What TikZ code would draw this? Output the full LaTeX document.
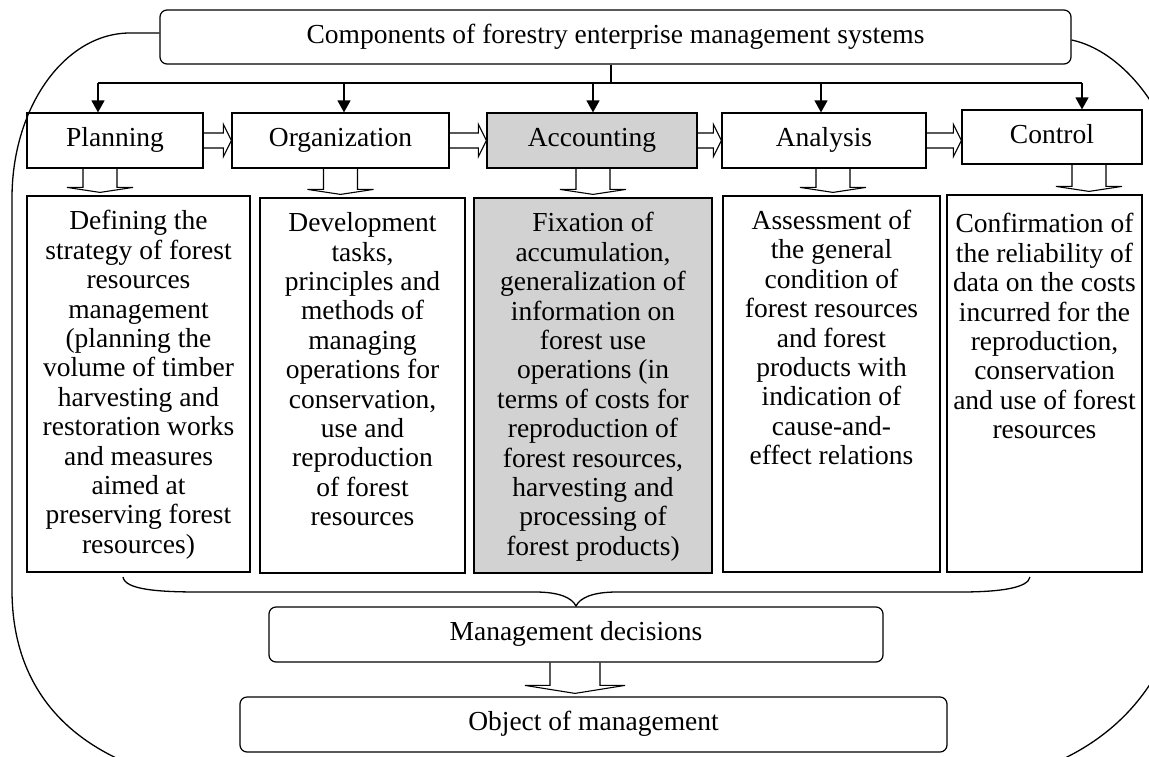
\documentclass[tikz,border=0pt]{standalone}
\usepackage{fontspec}
\setmainfont{Liberation Serif}
\usetikzlibrary{arrows.meta,calc}
\newcommand\figfont{\fontsize{27.5pt}{29.4pt}\selectfont}
% hollow down arrow: #1 source node, #2 xshift, #3 target node, #4 shaft half width, #5 head half width, #6 head length
\newcommand\dnarrow[6]{\draw[hollow] let \p1=([xshift=#2]#1.south), \p2=(#3.north) in
  (\x1-#4,\y1) -- (\x1-#4,\y2+3pt+#6) -- (\x1-#5,\y2+3pt+#6) -- (\x1,\y2+3pt)
  -- (\x1+#5,\y2+3pt+#6) -- (\x1+#4,\y2+3pt+#6) -- (\x1+#4,\y1);}
% hollow right arrow between two nodes
\newcommand\rtarrow[2]{\draw[hollow] let \p1=(#1.east), \p2=(#2.west) in
  (\x1,\y1+7.5pt) -- (\x2-8pt,\y1+7.5pt) -- (\x2-8pt,\y1+16pt) -- (\x2,\y1)
  -- (\x2-8pt,\y1-16pt) -- (\x2-8pt,\y1-7.5pt) -- (\x1,\y1-7.5pt);}
\begin{document}
\begin{tikzpicture}[x=1pt,y=-1pt,
  box/.style={draw, line width=1.2pt, inner sep=0pt, font=\figfont, text height=18.8pt, text depth=6pt},
  rbox/.style={box, rounded corners=7pt},
  txt/.style={align=center, inner sep=0pt, anchor=north, font=\figfont},
  hollow/.style={draw, line width=1.1pt},
  blk/.style={line width=1.3pt},
  tip/.style={blk, -{Triangle[length=12pt,width=13pt]}},
  shade/.style={fill=gray!35}]
\useasboundingbox (0,0) rectangle (1149,756);

% top box
\node[rbox, minimum width=911pt, minimum height=54pt] (comp) at (615.5,37) {Components of forestry enterprise management systems};

% first row
\node[box, minimum width=176pt, minimum height=55pt] (plan) at (115,140.5) {Planning};
\node[box, minimum width=217pt, minimum height=55pt] (org) at (340.5,140.5) {Organization};
\node[box, shade, minimum width=210pt, minimum height=55pt] (acc) at (592,140.5) {Accounting};
\node[box, minimum width=204pt, minimum height=55pt] (ana) at (824,140.5) {Analysis};
\node[box, minimum width=180pt, minimum height=54pt] (ctl) at (1052,137) {Control};

% second row boxes
\node[box, minimum width=223pt, minimum height=376pt] (d1) at (138.5,384) {};
\node[box, minimum width=205pt, minimum height=375pt] (d2) at (362.5,385.5) {};
\node[box, shade, minimum width=238pt, minimum height=375pt] (d3) at (593,385.5) {};
\node[box, minimum width=217pt, minimum height=376pt] (d4) at (831.5,384) {};
\node[box, minimum width=195pt, minimum height=377pt] (d5) at (1044.5,383.5) {};

\node[txt] (t1) at ([yshift=-15pt]d1.north) {Defining the\\strategy of forest\\resources\\management\\(planning the\\volume of timber\\harvesting and\\restoration works\\and measures\\aimed at\\preserving forest\\resources)};
\node[txt] (t2) at ([yshift=-15pt]d2.north) {Development\\tasks,\\principles and\\methods of\\managing\\operations for\\conservation,\\use and\\reproduction\\of forest\\resources};
\node[txt] (t3) at ([yshift=-15pt]d3.north) {Fixation of\\accumulation,\\generalization of\\information on\\forest use\\operations (in\\terms of costs for\\reproduction of\\forest resources,\\harvesting and\\processing of\\forest products)};
\node[txt] (t4) at ([yshift=-14.5pt]d4.north) {Assessment of\\the general\\condition of\\forest resources\\and forest\\products with\\indication of\\cause-and-\\effect relations};
\node[txt] (t5) at ([yshift=-19pt]d5.north) {Confirmation of\\the reliability of\\data on the costs\\incurred for the\\reproduction,\\conservation\\and use of forest\\resources};

% bottom boxes
\node[rbox, minimum width=614pt, minimum height=55pt] (mgmt) at (576,634.5) {Management decisions};
\node[rbox, minimum width=707pt, minimum height=55pt] (obj) at (593.5,724.5) {Object of management};

% distribution bus
\coordinate (busL) at (98,83);
\coordinate (busR) at (1082,83);
\draw[blk] ([xshift=-4.5pt]comp.south) -- ([xshift=-4.5pt]comp.south |- busL);
\draw[blk] (busL) -- (busR);
\draw[tip] (busL) -- (busL |- plan.north);
\draw[tip] ([xshift=3.5pt]org.north |- busL) -- ([xshift=3.5pt]org.north);
\draw[tip] ([xshift=1pt]acc.north |- busL) -- ([xshift=1pt]acc.north);
\draw[tip] ([xshift=-3pt]ana.north |- busL) -- ([xshift=-3pt]ana.north);
\draw[tip] (busR) -- (busR |- ctl.north);

% hollow right arrows
\rtarrow{plan}{org}
\rtarrow{org}{acc}
\rtarrow{acc}{ana}
\rtarrow{ana}{ctl}

% hollow down arrows
\dnarrow{plan}{-15pt}{d1}{17pt}{33pt}{5pt}
\dnarrow{org}{0pt}{d2}{17pt}{33pt}{5pt}
\dnarrow{acc}{1pt}{d3}{17pt}{33pt}{5pt}
\dnarrow{ana}{9pt}{d4}{17pt}{33pt}{5pt}
\dnarrow{ctl}{37pt}{d5}{17pt}{33pt}{5pt}
\dnarrow{mgmt}{-1pt}{obj}{25pt}{50pt}{8pt}

% brace
\draw[blk] (123,577) .. controls (125,590) and (160,592) .. (200,592) -- (535,592)
  .. controls (560,592) and (572,598) .. (576,606)
  .. controls (580,598) and (592,592) .. (617,592) -- (960,592)
  .. controls (1000,592) and (1028,588) .. (1030,577);

% outer frame
\begin{scope}
\clip (0,0) rectangle (1149,756);
\draw[blk] ([yshift=4pt]comp.west) -- (130,33) .. controls (64.9,33) and (12,106.9) .. (12,198)
  -- (12,590) .. controls (12,670) and (50,735) .. (140,768) -- (1030,772)
  .. controls (1130,740) and (1185,660) .. (1185,560) -- (1185,200)
  .. controls (1175,110) and (1120,50) .. ([yshift=-3pt]comp.east);
\end{scope}
\end{tikzpicture}
\end{document}
